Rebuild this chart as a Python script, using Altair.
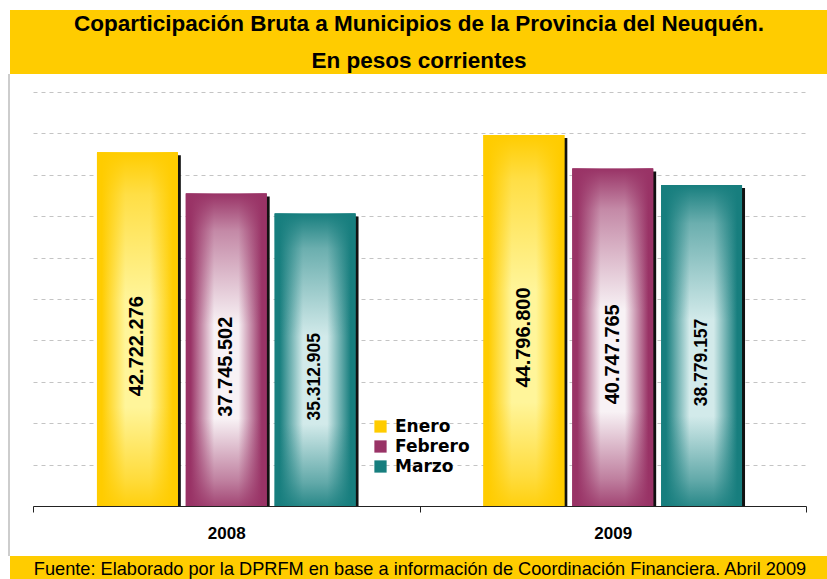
import altair as alt
import pandas as pd

years = ["2008", "2009"]
months = ["Enero", "Febrero", "Marzo"]
values_2008 = [42722276, 37745502, 35312905]
values_2009 = [44796800, 40747765, 38779157]
y_ticks = [0, 5000000, 10000000, 15000000, 20000000, 25000000,
           30000000, 35000000, 40000000, 45000000, 50000000]

title_line1 = "Coparticipación Bruta a Municipios de la Provincia del Neuquén."
title_line2 = "En pesos corrientes"
source_text = ("Fuente: Elaborado por la DPRFM en base a información de "
               "Coordinación Financiera. Abril 2009")

rows = []
for yr, vals in zip(years, [values_2008, values_2009]):
    for m, v in zip(months, vals):
        rows.append({"year": yr, "month": m, "value": v,
                     "label": f"{v:,}".replace(",", ".")})
df = pd.DataFrame(rows)
deco = pd.DataFrame({"k": [0]})

FONT = "Liberation Sans"
W, H = 773, 414
PAD = {"left": 33, "top": 92, "right": 21, "bottom": 73}
BAND = "#FFCC00"

colors = ["#FFCC00", "#993366", "#177E7E"]
lights = ["#FFF59A", "#F8F2F5", "#D2EAEA"]


def rgba(hex_color, a):
    h = hex_color.lstrip("#")
    r, g, b = int(h[0:2], 16), int(h[2:4], 16), int(h[4:6], 16)
    return f"rgba({r},{g},{b},{a})"


x_enc = alt.X(
    "year:N",
    scale=alt.Scale(domain=years, paddingInner=0, paddingOuter=0),
    axis=alt.Axis(title=None, labelAngle=0, labelFont=FONT, labelFontSize=17,
                  labelFontWeight="bold", labelColor="black", tickBand="extent",
                  domainColor="#222222", tickColor="#222222", tickSize=6,
                  labelPadding=13, grid=False),
)
y_axis = alt.Axis(values=y_ticks, grid=True, labels=False, ticks=False,
                  domain=False, title=None, gridDash=[4, 4],
                  gridColor="#C4C4C4", gridWidth=1)
y_enc = alt.Y("value:Q", scale=alt.Scale(domain=[0, 50000000]), axis=y_axis,
              stack=None)
xoff = alt.XOffset("month:N", scale=alt.Scale(domain=months, paddingInner=0.09,
                                              paddingOuter=0.72))
xoff_shadow = alt.XOffset("month:N", scale=alt.Scale(domain=months,
                                                     paddingInner=0.09,
                                                     paddingOuter=0.72,
                                                     range=[3, 389.5]))

shadow = alt.Chart(df).mark_bar(color="#111111", yOffset=3).encode(
    x=x_enc, xOffset=xoff_shadow, y=y_enc)

base = alt.Chart(df).mark_bar().encode(
    x=x_enc, xOffset=xoff, y=y_enc,
    color=alt.Color("month:N", scale=alt.Scale(domain=months, range=colors),
                    legend=alt.Legend(title=None, orient="none", legendX=339,
                                      legendY=326, symbolType="square",
                                      symbolSize=150, labelFont="DejaVu Sans",
                                      labelFontSize=17, labelFontWeight="bold",
                                      labelColor="black", rowPadding=2,
                                      labelOffset=6, symbolStrokeWidth=0)))

overlays = []
for m, c, l in zip(months, colors, lights):
    hgrad = alt.LinearGradient(
        gradient="linear", x1=0, x2=1, y1=0, y2=0,
        stops=[alt.GradientStop(color=c, offset=0),
               alt.GradientStop(color=c, offset=0.06),
               alt.GradientStop(color=l, offset=0.35),
               alt.GradientStop(color=l, offset=0.65),
               alt.GradientStop(color=c, offset=0.94),
               alt.GradientStop(color=c, offset=1)])
    vgrad = alt.LinearGradient(
        gradient="linear", x1=0, x2=0, y1=0, y2=1,
        stops=[alt.GradientStop(color=rgba(c, 1), offset=0),
               alt.GradientStop(color=rgba(c, 0.55), offset=0.12),
               alt.GradientStop(color=rgba(c, 0), offset=0.42),
               alt.GradientStop(color=rgba(c, 0), offset=0.72),
               alt.GradientStop(color=rgba(c, 0.6), offset=0.92),
               alt.GradientStop(color=rgba(c, 0.9), offset=1)])
    for g in (hgrad, vgrad):
        overlays.append(
            alt.Chart(df).transform_filter(alt.datum.month == m)
            .mark_bar(color=g).encode(x=x_enc, xOffset=xoff, y=y_enc))

labels = alt.Chart(df).transform_calculate(mid="datum.value / 2").mark_text(
    angle=270, font=FONT, fontWeight="bold", color="black", yOffset=17
).encode(
    x=x_enc, xOffset=xoff,
    y=alt.Y("mid:Q", scale=alt.Scale(domain=[0, 50000000]), axis=y_axis),
    text="label:N",
    size=alt.condition(alt.datum.month == "Marzo", alt.value(17.5), alt.value(20)),
)

main = alt.layer(base, *overlays, labels)

title_band = alt.Chart(deco).mark_rect(color=BAND).encode(
    x=alt.value(-23), x2=alt.value(794), y=alt.value(-82), y2=alt.value(-18))
source_band = alt.Chart(deco).mark_rect(color=BAND).encode(
    x=alt.value(-23), x2=alt.value(794), y=alt.value(464), y2=alt.value(487))
frame_line = alt.Chart(deco).mark_rule(color="#BDBDBD", strokeWidth=1.5).encode(
    x=alt.value(-24), y=alt.value(-18), y2=alt.value(464))
t1 = alt.Chart(deco).mark_text(text=title_line1, font=FONT, fontWeight="bold",
                               fontSize=22.5, color="black",
                               baseline="alphabetic").encode(
    x=alt.value(386), y=alt.value(-61))
t2 = alt.Chart(deco).mark_text(text=title_line2, font=FONT, fontWeight="bold",
                               fontSize=22.5, color="black",
                               baseline="alphabetic").encode(
    x=alt.value(386), y=alt.value(-24))
src = alt.Chart(deco).mark_text(text=source_text, font=FONT, fontSize=18.2,
                                color="black", baseline="alphabetic").encode(
    x=alt.value(387), y=alt.value(483))

chart = alt.layer(title_band, source_band, frame_line, t1, t2, src, shadow, main
                  ).resolve_scale(xOffset="independent").properties(
    width=W, height=H, padding=PAD,
    autosize=alt.AutoSizeParams(type="none"),
    background="white",
).configure_view(stroke=None)

chart.save("out.html", embed_options={"renderer": "svg", "actions": False})
